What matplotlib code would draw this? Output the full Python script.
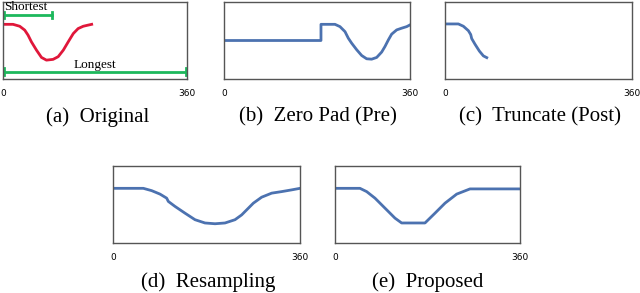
import matplotlib.pyplot as plt

# values are on a z-normalised scale, x is the time index 0..360
orig_x = [0, 19.6, 32.7, 42.5, 49, 55.6, 65.5, 75.3, 85, 98, 108, 118, 127.6,
          137.5, 147, 157, 165, 173.5]
orig_y = [0.84, 0.84, 0.74, 0.54, 0.28, -0.07, -0.50, -0.88, -1.02, -0.98,
          -0.84, -0.50, -0.07, 0.36, 0.62, 0.74, 0.79, 0.84]

shortest_len = 95
longest_len = 360

pad_x = [0, 187.7]
pad_y = [0, 0]
zp_x = [187.7, 214.8, 224.5, 234.2, 240.6, 247.1, 256.8, 266.5, 276.1, 285.8,
        295.5, 305.2, 311.6, 318.1, 324.5, 334.2, 343.9, 353.5, 360]
zp_y = [0.84, 0.84, 0.72, 0.46, 0.12, -0.14, -0.48, -0.78, -0.95, -0.97,
        -0.88, -0.60, -0.31, 0.03, 0.33, 0.55, 0.64, 0.72, 0.81]

trunc_x = [0, 25.7, 35.4, 45, 49.5, 51.4, 57.9, 66.2, 73.9, 80.4]
trunc_y = [0.86, 0.86, 0.74, 0.51, 0.31, 0.10, -0.20, -0.55, -0.80, -0.89]

res_x = [0, 58.4, 74.4, 90.5, 103.3, 106.5, 119.4, 138.6, 157.9, 177.1, 196.4,
         215.6, 234.9, 247.7, 257.3, 270.2, 286.2, 305.5, 324.7, 344, 360]
res_y = [0.84, 0.84, 0.72, 0.54, 0.33, 0.16, -0.10, -0.45, -0.79, -0.96, -1.0,
         -0.96, -0.79, -0.54, -0.28, 0.07, 0.38, 0.59, 0.67, 0.76, 0.84]

prop_x = [0, 48.6, 61.6, 77.8, 97.3, 116.8, 129.7, 175.1, 194.6, 214.1, 236.8,
          262.7, 360]
prop_y = [0.84, 0.84, 0.67, 0.33, -0.19, -0.71, -0.96, -0.96, -0.45, 0.07,
          0.54, 0.81, 0.81]

captions = ['(a)  Original', '(b)  Zero Pad (Pre)', '(c)  Truncate (Post)',
            '(d)  Resampling', '(e)  Proposed']

blue = '#4c72b0'
red = '#e0173a'
green = '#1db85c'

fig = plt.figure(figsize=(6.4, 2.93), dpi=100)

rects = [
    [3 / 640, 1 - 79 / 293, 184 / 640, 77 / 293],
    [224 / 640, 1 - 79 / 293, 186 / 640, 77 / 293],
    [445 / 640, 1 - 79 / 293, 187 / 640, 77 / 293],
    [113 / 640, 1 - 243 / 293, 187 / 640, 77 / 293],
    [335 / 640, 1 - 243 / 293, 185 / 640, 77 / 293],
]
axes = [fig.add_axes(r) for r in rects]

for ax in axes:
    ax.set_xlim(0, 360)
    ax.set_ylim(-2, 2)
    ax.set_xticks([0, 360])
    ax.set_xticklabels(['0', '360'])
    ax.set_yticks([])
    ax.tick_params(axis='x', length=0, pad=7, labelsize=6.5)
    for s in ax.spines.values():
        s.set_color('#555555')
        s.set_linewidth(1.0)

# (a) original with the length brackets
ax = axes[0]
ax.plot(orig_x, orig_y, color=red, lw=2)
ax.plot([0, shortest_len], [1.32, 1.32], color=green, lw=2)
ax.plot([shortest_len, shortest_len], [1.15, 1.5], color=green, lw=2)
ax.plot([1, 1], [1.15, 1.5], color=green, lw=2)
ax.text(2, 1.72, 'Shortest', family='Liberation Serif', fontsize=9.5,
        va='center', ha='left')
ax.plot([0, longest_len], [-1.62, -1.62], color=green, lw=2)
ax.plot([1.5, 1.5], [-1.45, -1.8], color=green, lw=2)
ax.plot([358.5, 358.5], [-1.45, -1.8], color=green, lw=2)
ax.text(180, -1.28, 'Longest', family='Liberation Serif', fontsize=9.5,
        va='center', ha='center')

axes[1].plot(pad_x + zp_x, pad_y + zp_y, color=blue, lw=2)
axes[2].plot(trunc_x, trunc_y, color=blue, lw=2)
axes[3].plot(res_x, res_y, color=blue, lw=2)
axes[4].plot(prop_x, prop_y, color=blue, lw=2)

cap_pos = [(98, 117), (318, 117), (540, 117), (208, 282), (428, 282)]
for txt, (cx, cy) in zip(captions, cap_pos):
    fig.text(cx / 640, 1 - cy / 293, txt, family='Liberation Serif',
             fontsize=15, ha='center', va='center')

fig.savefig('out.png', dpi=100)
